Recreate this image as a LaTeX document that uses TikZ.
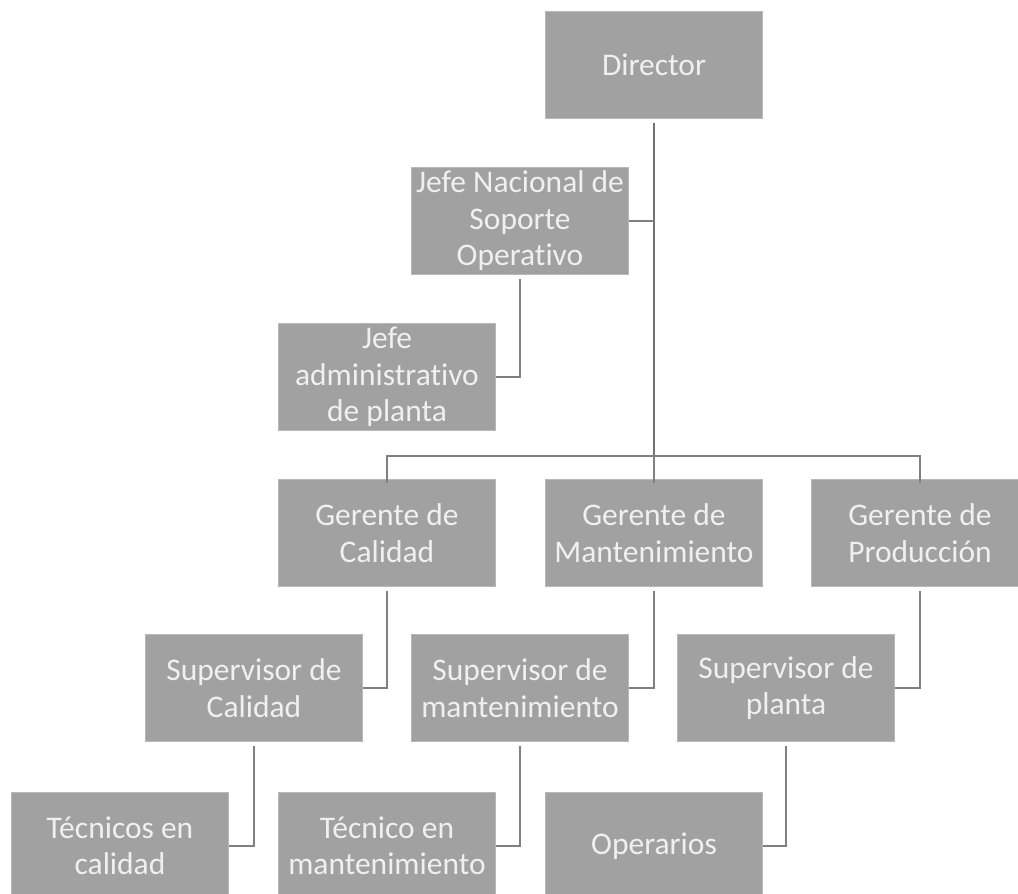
\documentclass[tikz,border=0pt]{standalone}
\usepackage{fontspec}
\setmainfont{Carlito}[Ligatures={NoCommon}]
\begin{document}
\begin{tikzpicture}[x=1pt,y=-1pt,
  box/.style={draw=black!28, line width=0.6pt, fill=black!37, text=white!94!black,
    minimum width=217pt, minimum height=107pt, inner sep=2pt, align=center,
    font=\fontsize{31.5}{36.5}\selectfont},
  link/.style={draw=black!50, line width=2pt}]
\useasboundingbox (0,0) rectangle (1018,894);
\begin{scope}
\clip (0,0) rectangle (1018,894);
\node[box] (dir) at (654,65) {Director};
\node[box] (jns) at (520,221) {Jefe Nacional de\\Soporte\\Operativo};
\node[box] (jap) at (387,377) {Jefe\\administrativo\\de planta};
\node[box] (gc) at (387,533) {Gerente de\\Calidad};
\node[box] (gm) at (654,533) {Gerente de\\Mantenimiento};
\node[box] (gp) at (920,533) {Gerente de\\Producción};
\node[box] (sc) at (254,688) {Supervisor de\\Calidad};
\node[box] (sm) at (520,688) {Supervisor de\\mantenimiento};
\node[box] (sp) at (786,688) {Supervisor de\\planta};
\node[box] (tc) at (120,846) {Técnicos en\\calidad};
\node[box] (tm) at (387,846) {Técnico en\\mantenimiento};
\node[box] (op) at (654,846) {Operarios};
\coordinate (bar) at (654,456);
\end{scope}
\draw[link, line width=2.6pt, draw=black!55] ([yshift=-4pt]dir.south) -- (bar);
\draw[link] (jns.east) -- (jns.east -| dir.south);
\draw[link] ([yshift=-4pt]jns.south) |- (jap.east);
\draw[link] ([yshift=-4pt]gc.north) -- (gc.north |- bar) -- (gp.north |- bar) -- ([yshift=-4pt]gp.north);
\draw[link] (bar) -- ([yshift=-4pt]gm.north);
\draw[link] ([yshift=-4pt]gc.south) |- (sc.east);
\draw[link] ([yshift=-4pt]gm.south) |- (sm.east);
\draw[link] ([yshift=-4pt]gp.south) |- (sp.east);
\draw[link] ([yshift=-4pt]sc.south) |- (tc.east);
\draw[link] ([yshift=-4pt]sm.south) |- (tm.east);
\draw[link] ([yshift=-4pt]sp.south) |- (op.east);
\end{tikzpicture}
\end{document}
